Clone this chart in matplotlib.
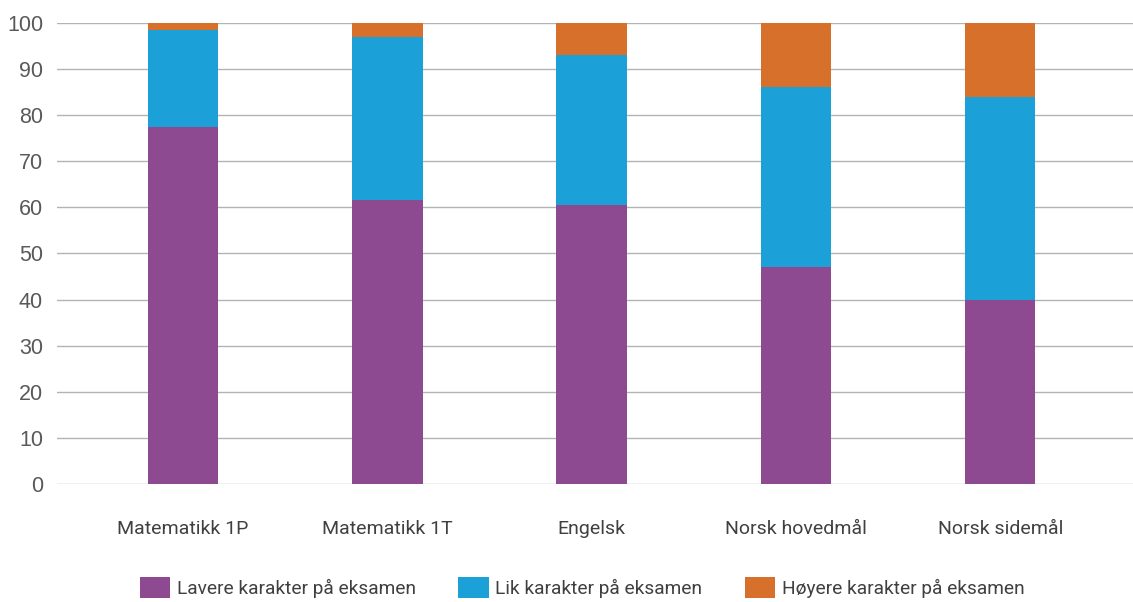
import matplotlib
matplotlib.use("Agg")
import matplotlib.pyplot as plt
import numpy as np

categories = ["Matematikk 1P", "Matematikk 1T", "Engelsk", "Norsk hovedmål", "Norsk sidemål"]
lavere = [77.5, 61.5, 60.5, 47.0, 40.0]
lik = [21.0, 35.5, 32.5, 39.0, 44.0]
hoyere = [1.5, 3.0, 7.0, 14.0, 16.0]
series_names = ["Lavere karakter på eksamen", "Lik karakter på eksamen", "Høyere karakter på eksamen"]
colors = ["#8E4A91", "#1CA0D8", "#D6702B"]
yticks = [0, 10, 20, 30, 40, 50, 60, 70, 80, 90, 100]

label_font = "Roboto"

fig = plt.figure(figsize=(11.33, 6.02), dpi=100)
ax = fig.add_axes([0.0503, 0.196, 0.9497, 0.766])

x = np.arange(len(categories))
bottom = np.zeros(len(categories))
for vals, name, col in zip([lavere, lik, hoyere], series_names, colors):
    ax.bar(x, vals, width=0.345, bottom=bottom, color=col, label=name, zorder=3)
    bottom += np.array(vals)

ax.set_xlim(-0.617, 4.65)
ax.set_ylim(0, 100)
ax.set_yticks(yticks)
ax.yaxis.grid(True, color="#b3b3b3", linewidth=1.0, zorder=0)
ax.set_axisbelow(True)
for s in ax.spines.values():
    s.set_visible(False)
ax.tick_params(axis="both", length=0)
ax.tick_params(axis="y", pad=10, labelsize=15.5, labelcolor="#595959")
ax.set_xticks(x)
ax.set_xticklabels(categories, fontsize=14, color="#404040", family=label_font)
ax.tick_params(axis="x", pad=26)
for lbl in ax.get_yticklabels():
    lbl.set_family("Liberation Sans")

leg = ax.legend(loc="upper center", bbox_to_anchor=(0.488, -0.165), ncol=3,
                frameon=False, prop={"family": label_font, "size": 13.8},
                handlelength=1.6, handleheight=1.3, columnspacing=2.2, handletextpad=0.35)
for t in leg.get_texts():
    t.set_color("#404040")

fig.savefig("out.png", dpi=100)
